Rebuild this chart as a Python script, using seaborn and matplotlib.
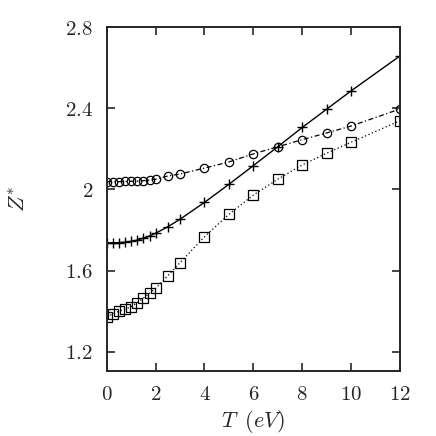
import matplotlib
matplotlib.use("Agg")
import matplotlib.pyplot as plt
import seaborn as sns
import pandas as pd

# temperature grid (eV)
T = [0, 0.25, 0.5, 0.75, 1, 1.25, 1.5, 1.75, 2, 2.5, 3, 4, 5, 6, 7, 8, 9, 10, 12]

z_circle = [2.038, 2.038, 2.038, 2.039, 2.040, 2.041, 2.043, 2.046, 2.050, 2.066, 2.076,
            2.105, 2.135, 2.175, 2.21, 2.245, 2.278, 2.312, 2.396]
z_cross = [1.737, 1.737, 1.738, 1.740, 1.744, 1.750, 1.760, 1.770, 1.784, 1.816, 1.853,
           1.936, 2.025, 2.117, 2.21, 2.305, 2.395, 2.485, 2.657]
z_square = [1.373, 1.386, 1.400, 1.410, 1.422, 1.442, 1.464, 1.488, 1.513, 1.575, 1.639,
            1.767, 1.877, 1.972, 2.05, 2.12, 2.178, 2.232, 2.338]

yticks = [1.2, 1.6, 2.0, 2.4, 2.8]
ytick_labels = ["1.2", "1.6", "2", "2.4", "2.8"]
xticks = [0, 2, 4, 6, 8, 10, 12]

df = pd.DataFrame({"T": T, "circle": z_circle, "cross": z_cross, "square": z_square})

sns.set_style("ticks")
plt.rcParams["mathtext.fontset"] = "cm"
plt.rcParams["font.family"] = ["DejaVu Serif"]

fig = plt.figure(figsize=(4.36, 4.36), dpi=100)
ax = fig.add_axes([0.245, 0.149, 0.672, 0.789])

sns.lineplot(data=df, x="T", y="cross", ax=ax, color="black", linewidth=1.0,
             marker="+", markersize=7, markeredgecolor="black", markeredgewidth=1.0,
             dashes=False, linestyle="-")
sns.lineplot(data=df, x="T", y="circle", ax=ax, color="black", linewidth=0.9,
             marker="o", markersize=6, markerfacecolor="none", markeredgecolor="black",
             markeredgewidth=0.9, dashes=False, linestyle=(0, (4, 2, 1, 2)))
sns.lineplot(data=df, x="T", y="square", ax=ax, color="black", linewidth=0.9,
             marker="s", markersize=6.5, markerfacecolor="none", markeredgecolor="black",
             markeredgewidth=0.9, dashes=False, linestyle=(0, (1, 2)))

ax.set_xlim(0, 12)
ax.set_ylim(1.105, 2.8)
ax.set_xticks(xticks)
ax.set_xticklabels([f"${t}$" for t in xticks])
ax.set_yticks(yticks)
ax.set_yticklabels([f"${s}$" for s in ytick_labels])
ax.tick_params(direction="in", length=6, width=1.2, top=True, right=True,
               labelsize=15, pad=10)
for sp in ax.spines.values():
    sp.set_linewidth(1.4)

ax.set_xlabel(r"$T\;\;(eV)$", fontsize=16, labelpad=3)
ax.set_ylabel(r"$Z^{*}$", fontsize=16, rotation=90, va="center", ha="center")
ax.yaxis.set_label_coords(-0.30, 0.5)

fig.savefig("out.png", dpi=100)
